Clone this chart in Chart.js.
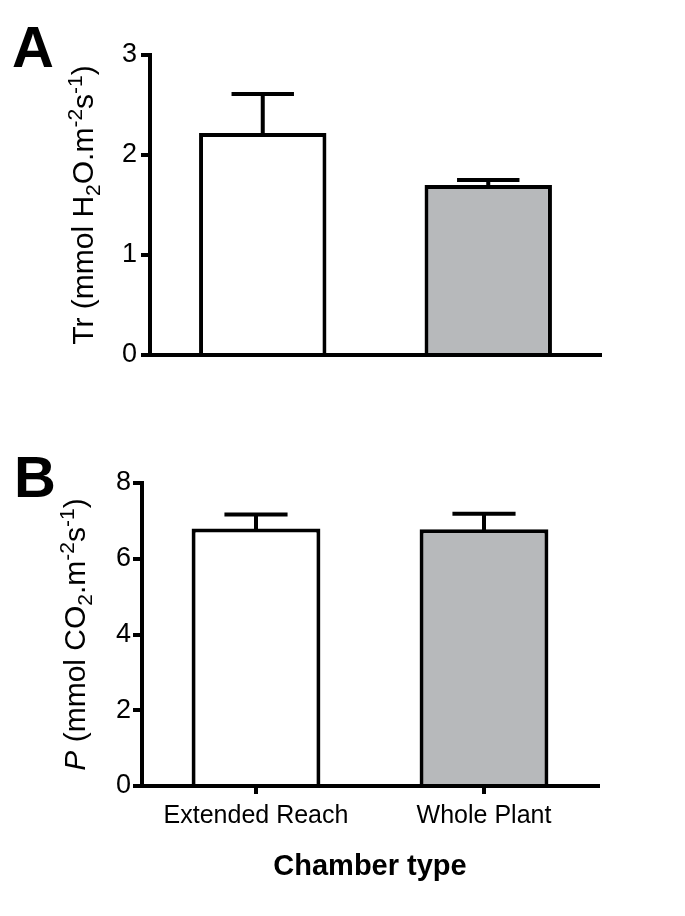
<!DOCTYPE html>
<html>
<head>
<meta charset="utf-8">
<script src="https://cdn.jsdelivr.net/npm/chart.js@4.4.1/dist/chart.umd.min.js"></script>
<style>
  html, body { margin: 0; padding: 0; background: #fff; }
  canvas { position: absolute; left: 0; }
  #chartA { top: 0; }
  #chartB { top: 430px; }
</style>
</head>
<body>
<canvas id="chartA" width="685" height="430"></canvas>
<canvas id="chartB" width="685" height="486"></canvas>
<script>
// data
const categories = ['Extended Reach', 'Whole Plant'];
const barColors = ['#ffffff', '#b7b9bb'];

const trValues = [2.22, 1.70];
const trErrors = [0.39, 0.05];
const trTicks = { min: 0, max: 3, step: 1 };

const pValues = [6.80, 6.78];
const pErrors = [0.37, 0.41];
const pTicks = { min: 0, max: 8, step: 2 };

const FONT = '"Liberation Sans", Arial, Helvetica, sans-serif';
Chart.defaults.font.family = FONT;
Chart.defaults.color = '#000';

// SEM whiskers, upward only
const errorBars = {
  id: 'errorBars',
  afterDatasetsDraw(chart, args, opts) {
    const ctx = chart.ctx;
    const yScale = chart.scales.y;
    const meta = chart.getDatasetMeta(0);
    const vals = chart.data.datasets[0].data;
    ctx.save();
    ctx.strokeStyle = '#000';
    ctx.lineWidth = 4;
    ctx.lineCap = 'butt';
    meta.data.forEach((bar, i) => {
      const top = yScale.getPixelForValue(vals[i] + opts.errors[i]);
      const half = bar.width * 0.245;
      ctx.beginPath();
      ctx.moveTo(bar.x, bar.y + 2);
      ctx.lineTo(bar.x, top);
      ctx.moveTo(bar.x - half, top);
      ctx.lineTo(bar.x + half, top);
      ctx.stroke();
    });
    ctx.restore();
  }
};

// panel letter + rotated y title with sub/superscripts
const panelText = {
  id: 'panelText',
  afterDraw(chart, args, opts) {
    const { ctx, chartArea } = chart;
    ctx.save();
    ctx.fillStyle = '#000';
    ctx.textBaseline = 'alphabetic';
    ctx.textAlign = 'left';
    ctx.font = 'bold 58px ' + FONT;
    ctx.fillText(opts.letter, opts.letterX, opts.letterY);

    const size = 30;
    const parts = opts.title.map(([text, kind]) => {
      const s = (kind === 'sub' || kind === 'sup') ? size * 0.7 : size;
      const font = (kind === 'i' ? 'italic ' : '') + s + 'px ' + FONT;
      ctx.font = font;
      const dy = kind === 'sub' ? size * 0.22 : kind === 'sup' ? -size * 0.38 : 0;
      return { text, font, dy, w: ctx.measureText(text).width };
    });
    const total = parts.reduce((a, p) => a + p.w, 0);
    ctx.translate(chartArea.left - 57, (chartArea.top + chartArea.bottom) / 2);
    ctx.rotate(-Math.PI / 2);
    let x = -total / 2;
    parts.forEach(p => {
      ctx.font = p.font;
      ctx.fillText(p.text, x, p.dy);
      x += p.w;
    });
    ctx.restore();
  }
};

function yAxis(t, width, pad) {
  return {
    min: t.min, max: t.max, z: 1,
    afterFit: s => { s.width = width; },
    border: { color: '#000', width: 4 },
    grid: { display: true, drawOnChartArea: false, drawTicks: true, tickLength: 9, lineWidth: 4, color: '#000' },
    ticks: { stepSize: t.step, padding: pad, font: { size: 27 }, color: '#000' }
  };
}

function dataset(values) {
  return {
    data: values,
    backgroundColor: barColors,
    borderColor: '#000',
    borderWidth: 4,
    borderSkipped: 'start',
    barPercentage: 1,
    categoryPercentage: 0.565
  };
}

new Chart(document.getElementById('chartA'), {
  type: 'bar',
  data: { labels: categories, datasets: [dataset(trValues)] },
  options: {
    responsive: false,
    animation: false,
    layout: { padding: { top: 55, right: 84, left: 0, bottom: 0 } },
    scales: {
      x: {
        z: 1,
        afterFit: s => { s.height = 75; },
        border: { color: '#000', width: 4 },
        grid: { display: false, offset: false },
        ticks: { display: false }
      },
      y: yAxis(trTicks, 150, 4)
    },
    plugins: {
      legend: { display: false },
      tooltip: { enabled: false },
      errorBars: { errors: trErrors },
      panelText: {
        letter: 'A', letterX: 12, letterY: 67,
        title: [['Tr (mmol H', ''], ['2', 'sub'], ['O.m', ''], ['-2', 'sup'], ['s', ''], ['-1', 'sup'], [')', '']]
      }
    }
  },
  plugins: [errorBars, panelText]
});

new Chart(document.getElementById('chartB'), {
  type: 'bar',
  data: { labels: categories, datasets: [dataset(pValues)] },
  options: {
    responsive: false,
    animation: false,
    layout: { padding: { top: 53, right: 87, left: 0, bottom: 0 } },
    scales: {
      x: {
        z: 1,
        afterFit: s => { s.height = 130; },
        border: { color: '#000', width: 4 },
        grid: { display: true, offset: false, drawOnChartArea: false, tickLength: 8, lineWidth: 4, color: '#000' },
        ticks: { padding: 7, font: { size: 25 }, color: '#000', maxRotation: 0 },
        title: { display: true, text: 'Chamber type', color: '#000', font: { size: 29, weight: 'bold' }, padding: { top: 0, bottom: 32 } }
      },
      y: yAxis(pTicks, 142, 2)
    },
    plugins: {
      legend: { display: false },
      tooltip: { enabled: false },
      errorBars: { errors: pErrors },
      panelText: {
        letter: 'B', letterX: 14, letterY: 67,
        title: [['P', 'i'], [' (mmol CO', ''], ['2', 'sub'], ['.m', ''], ['-2', 'sup'], ['s', ''], ['-1', 'sup'], [')', '']]
      }
    }
  },
  plugins: [errorBars, panelText]
});
</script>
</body>
</html>
